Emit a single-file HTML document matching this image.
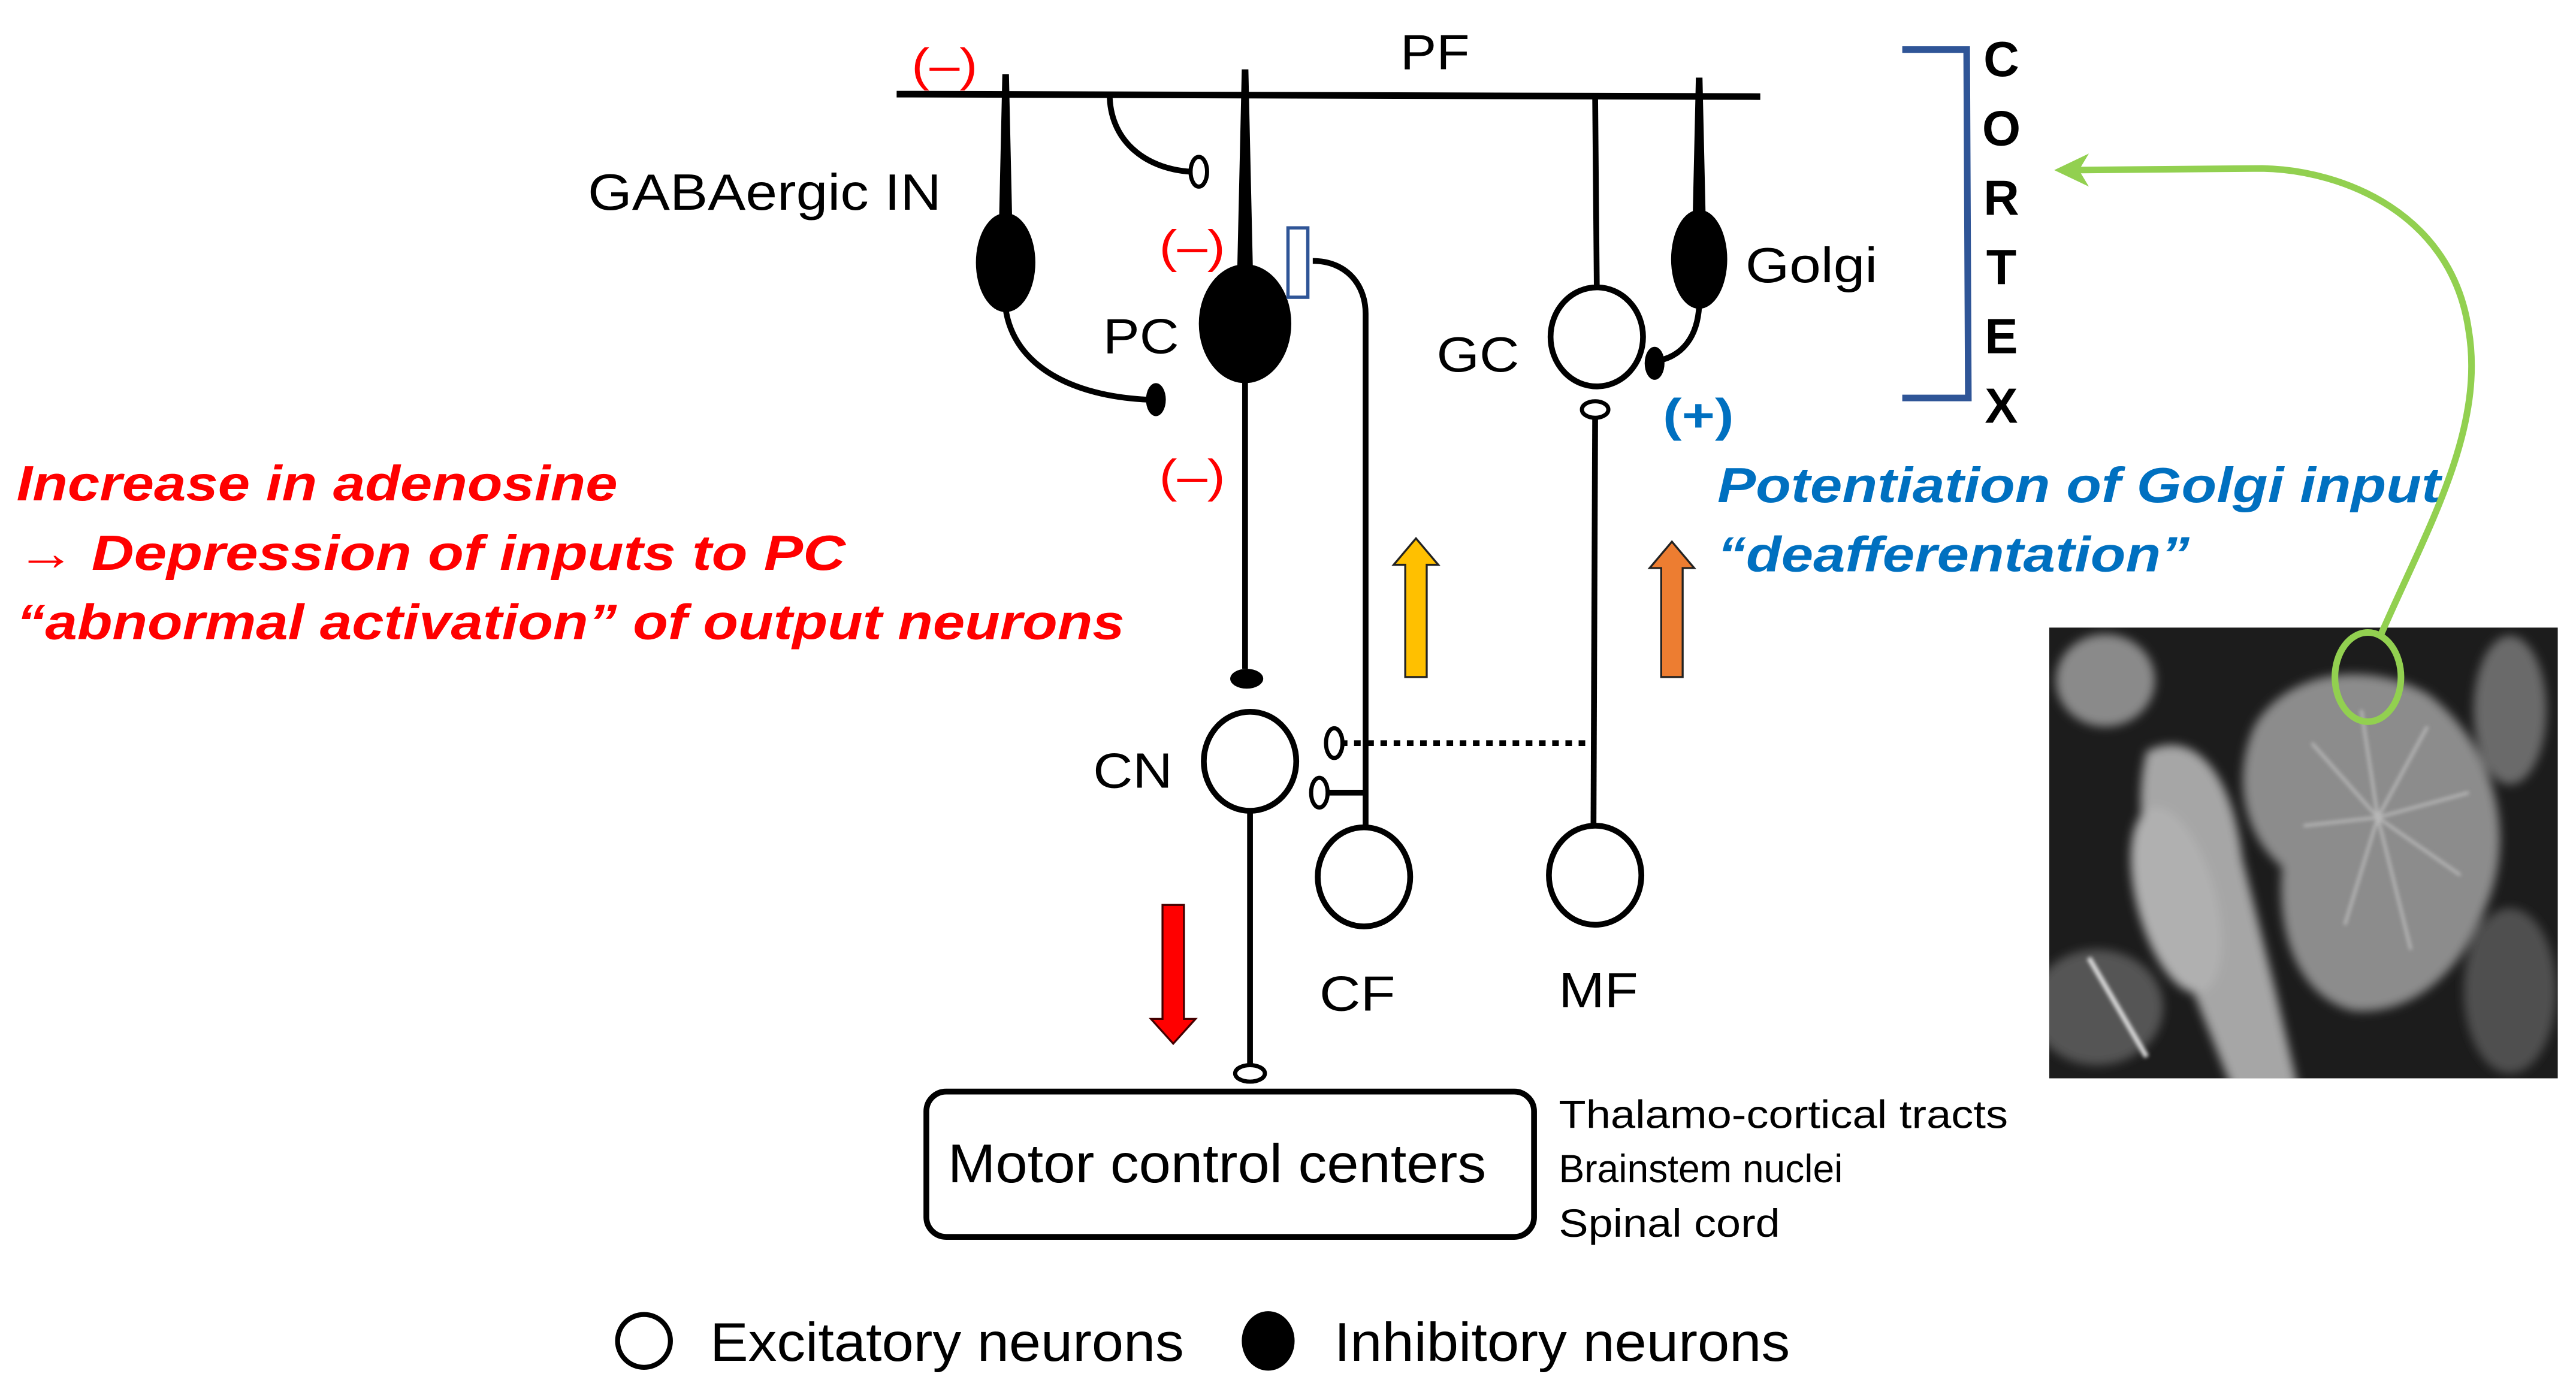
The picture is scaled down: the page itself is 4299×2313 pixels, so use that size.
<!DOCTYPE html>
<html><head><meta charset="utf-8"><style>
html,body{margin:0;padding:0;background:#fff;}
svg{display:block;}
text{font-family:"Liberation Sans",Arial,sans-serif;}
</style></head><body>
<svg width="4299" height="2313" viewBox="0 0 1560 839.3" preserveAspectRatio="none" xmlns="http://www.w3.org/2000/svg">
<defs>
<filter id="bl" x="-20%" y="-20%" width="140%" height="140%"><feGaussianBlur stdDeviation="3"/></filter>
<filter id="bl2"><feGaussianBlur stdDeviation="1.2"/></filter>
<clipPath id="mri"><rect x="1241" y="380" width="308" height="273"/></clipPath>
</defs>
<rect width="1560" height="839.3" fill="#fff"/>

<line x1="543" y1="57" x2="1066" y2="58.5" stroke="#000" stroke-width="4"/>
<text x="848" y="42" font-size="30" textLength="42" lengthAdjust="spacingAndGlyphs">PF</text>
<text x="552" y="49" font-size="28" fill="#f00" textLength="40" lengthAdjust="spacingAndGlyphs">(–)</text>

<polygon points="607,45 611,45 613,135 605,135" fill="#000"/>
<ellipse cx="609" cy="159" rx="18" ry="30" fill="#000"/>
<path d="M609,187 C614,222 650,240 695,242" fill="none" stroke="#000" stroke-width="3.5"/>
<ellipse cx="700" cy="242" rx="6" ry="10" fill="#000"/>
<text x="356" y="127" font-size="31" textLength="214" lengthAdjust="spacingAndGlyphs">GABAergic IN</text>

<path d="M672,57 C672,84 692,102 721,104" fill="none" stroke="#000" stroke-width="3.5"/>
<ellipse cx="726" cy="104" rx="5" ry="9" fill="#fff" stroke="#000" stroke-width="2.5"/>

<polygon points="752,42 756,42 759,175 749,175" fill="#000"/>
<ellipse cx="754" cy="196" rx="28" ry="36" fill="#000"/>
<line x1="754" y1="225" x2="754" y2="405" stroke="#000" stroke-width="3.5"/>
<ellipse cx="755" cy="411" rx="10" ry="6" fill="#000"/>
<text x="668" y="214" font-size="30" textLength="46" lengthAdjust="spacingAndGlyphs">PC</text>
<text x="702" y="159" font-size="28" fill="#f00" textLength="40" lengthAdjust="spacingAndGlyphs">(–)</text>
<text x="702" y="298" font-size="28" fill="#f00" textLength="40" lengthAdjust="spacingAndGlyphs">(–)</text>

<rect x="780" y="138" width="12" height="42" fill="#fff" stroke="#2f5597" stroke-width="2"/>
<path d="M795,158 C815,158 827,172 827,190 L827,503" fill="none" stroke="#000" stroke-width="3.5"/>
<ellipse cx="826" cy="531" rx="28" ry="30" fill="#fff" stroke="#000" stroke-width="3.5"/>
<text x="799" y="612" font-size="30" textLength="46" lengthAdjust="spacingAndGlyphs">CF</text>

<line x1="966" y1="58" x2="967" y2="174" stroke="#000" stroke-width="3.5"/>
<ellipse cx="967" cy="204" rx="28" ry="30" fill="#fff" stroke="#000" stroke-width="3.5"/>
<text x="870" y="225" font-size="30" textLength="50" lengthAdjust="spacingAndGlyphs">GC</text>
<ellipse cx="966" cy="248" rx="8" ry="5" fill="#fff" stroke="#000" stroke-width="2.5"/>
<line x1="966" y1="253" x2="965" y2="502" stroke="#000" stroke-width="3.5"/>
<ellipse cx="966" cy="530" rx="28" ry="30" fill="#fff" stroke="#000" stroke-width="3.5"/>
<text x="944" y="610" font-size="30" textLength="48" lengthAdjust="spacingAndGlyphs">MF</text>

<polygon points="1027,47 1031,47 1033,135 1025,135" fill="#000"/>
<ellipse cx="1029" cy="157" rx="17" ry="30" fill="#000"/>
<path d="M1029,185 C1028,205 1018,215 1006,218" fill="none" stroke="#000" stroke-width="3.5"/>
<ellipse cx="1002" cy="220" rx="6" ry="10" fill="#000"/>
<text x="1057" y="171" font-size="30" textLength="80" lengthAdjust="spacingAndGlyphs">Golgi</text>
<text x="1007" y="261" font-size="28" fill="#0070c0" font-weight="bold" textLength="43" lengthAdjust="spacingAndGlyphs">(+)</text>

<polygon points="851,410 864,410 864,342 871,342 857.5,326 844,342 851,342" fill="#ffc000" stroke="#222" stroke-width="1.2"/>
<polygon points="1006,410 1019,410 1019,344 1026,344 1012.5,328 999,344 1006,344" fill="#ed7d31" stroke="#222" stroke-width="1.2"/>
<polygon points="704,548 717,548 717,617 724,617 710.5,632 697,617 704,617" fill="#f00" stroke="#400" stroke-width="1.2"/>

<ellipse cx="757" cy="461" rx="28" ry="30" fill="#fff" stroke="#000" stroke-width="3.5"/>
<text x="662" y="477" font-size="30" textLength="48" lengthAdjust="spacingAndGlyphs">CN</text>
<line x1="812" y1="450" x2="966" y2="450" stroke="#000" stroke-width="3.5" stroke-dasharray="4,4"/>
<ellipse cx="808" cy="450" rx="5" ry="9" fill="#fff" stroke="#000" stroke-width="2.5"/>
<line x1="803" y1="480" x2="827" y2="480" stroke="#000" stroke-width="3.5"/>
<ellipse cx="799" cy="480" rx="5" ry="9" fill="#fff" stroke="#000" stroke-width="2.5"/>
<line x1="757" y1="491" x2="757" y2="645" stroke="#000" stroke-width="3.5"/>
<ellipse cx="757" cy="650" rx="9" ry="5" fill="#fff" stroke="#000" stroke-width="2.5"/>

<rect x="561" y="661" width="368" height="88" rx="12" fill="#fff" stroke="#000" stroke-width="3.5"/>
<text x="574" y="716" font-size="33" textLength="326" lengthAdjust="spacingAndGlyphs">Motor control centers</text>
<text x="944" y="683" font-size="24" textLength="272" lengthAdjust="spacingAndGlyphs">Thalamo-cortical tracts</text>
<text x="944" y="716" font-size="24" textLength="172" lengthAdjust="spacingAndGlyphs">Brainstem nuclei</text>
<text x="944" y="749" font-size="24" textLength="134" lengthAdjust="spacingAndGlyphs">Spinal cord</text>

<circle cx="390" cy="812" r="16" fill="#fff" stroke="#000" stroke-width="3"/>
<text x="430" y="824" font-size="33" textLength="287" lengthAdjust="spacingAndGlyphs">Excitatory neurons</text>
<ellipse cx="768" cy="812" rx="16" ry="18" fill="#000"/>
<text x="808" y="824" font-size="33" textLength="276" lengthAdjust="spacingAndGlyphs">Inhibitory neurons</text>

<g fill="#f00" font-weight="bold" font-style="italic" font-size="30">
<text x="10" y="303" textLength="364" lengthAdjust="spacingAndGlyphs">Increase in adenosine</text>
<text x="10" y="345" textLength="502" lengthAdjust="spacingAndGlyphs">→ Depression of  inputs to PC</text>
<text x="10" y="387" textLength="671" lengthAdjust="spacingAndGlyphs">“abnormal activation” of output neurons</text>
</g>
<g fill="#0070c0" font-weight="bold" font-style="italic" font-size="30">
<text x="1040" y="304" textLength="438" lengthAdjust="spacingAndGlyphs">Potentiation of Golgi input</text>
<text x="1040" y="346" textLength="286" lengthAdjust="spacingAndGlyphs">“deafferentation”</text>
</g>

<polyline points="1152,30 1191,30 1192,241 1152,241" fill="none" stroke="#2f5597" stroke-width="4"/>
<g font-weight="bold" font-size="30" text-anchor="middle">
<text x="1212" y="46">C</text>
<text x="1212" y="88">O</text>
<text x="1212" y="130">R</text>
<text x="1212" y="172">T</text>
<text x="1212" y="214">E</text>
<text x="1212" y="256">X</text>
</g>

<g clip-path="url(#mri)">
<rect x="1241" y="380" width="308" height="273" fill="#1c1c1c"/>
<g filter="url(#bl)">
<ellipse cx="1275" cy="412" rx="30" ry="28" fill="#8a8a8a"/>
<path d="M1300,455 C1330,440 1352,470 1358,520 L1378,600 L1392,660 L1352,660 L1328,600 C1308,560 1288,500 1300,455 Z" fill="#a6a6a6"/>
<ellipse cx="1318" cy="545" rx="24" ry="58" fill="#b0b0b0" transform="rotate(-15 1318 545)"/>
<path d="M1365,440 C1385,405 1435,400 1470,420 C1510,450 1525,505 1505,550 C1490,590 1460,615 1425,612 C1395,605 1378,570 1382,525 C1358,505 1352,470 1365,440 Z" fill="#8c8c8c"/>
<ellipse cx="1520" cy="430" rx="22" ry="45" fill="#6a6a6a"/>
<ellipse cx="1270" cy="610" rx="40" ry="35" fill="#555"/>
<ellipse cx="1520" cy="600" rx="28" ry="50" fill="#505050"/>
</g>
<g stroke="#b8b8b8" stroke-width="1.8" fill="none" filter="url(#bl2)">
<path d="M1440,495 L1400,450 M1440,495 L1430,430 M1440,495 L1470,440 M1440,495 L1495,480 M1440,495 L1490,530 M1440,495 L1460,575 M1440,495 L1420,560 M1440,495 L1395,500"/>
</g>
<path d="M1265,580 L1300,640" stroke="#ddd" stroke-width="3" filter="url(#bl2)"/>
</g>

<ellipse cx="1434" cy="410" rx="20" ry="27" fill="none" stroke="#92d050" stroke-width="4"/>
<path d="M1442,384 C1470,320 1505,260 1495,200 C1485,130 1420,103 1370,102 L1255,103" fill="none" stroke="#92d050" stroke-width="4"/>
<polygon points="1244,103 1265,93 1259,103 1265,113" fill="#92d050"/>
</svg>
</body></html>
